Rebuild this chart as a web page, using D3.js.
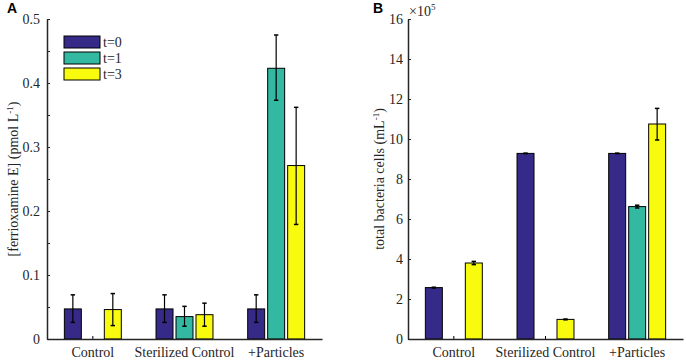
<!DOCTYPE html>
<html>
<head>
<meta charset="utf-8">
<script src="https://cdn.jsdelivr.net/npm/d3@7"></script>
<style>
body { margin: 0; background: #fff; }
svg { display: block; }
</style>
</head>
<body>
<svg id="chart" width="686" height="360"></svg>
<script>
const categories = ["Control", "Sterilized Control", "+Particles"];
const seriesNames = ["t=0", "t=1", "t=3"];
const seriesColors = ["#352a87", "#33b8a1", "#f9fb0e"];

// Panel A: [ferrioxamine E] (pmol L-1)
const feMean = [
  [0.047, 0.0, 0.046],
  [0.047, 0.035, 0.038],
  [0.047, 0.423, 0.271]
];
const feLow = [
  [0.026, null, 0.021],
  [0.026, 0.020, 0.020],
  [0.026, 0.373, 0.179]
];
const feHigh = [
  [0.069, null, 0.071],
  [0.069, 0.051, 0.056],
  [0.069, 0.475, 0.362]
];
const feTicks = [0, 0.05, 0.1, 0.15, 0.2, 0.25, 0.3, 0.35, 0.4, 0.45, 0.5];
const feTickLabels = ["0", "", "0.1", "", "0.2", "", "0.3", "", "0.4", "", "0.5"];

// Panel B: total bacteria cells (x10^5 mL-1)
const bacMean = [
  [2.57, 0.0, 3.80],
  [9.28, 0.0, 0.98],
  [9.28, 6.62, 10.75]
];
const bacLow = [
  [2.55, null, 3.72],
  [9.27, null, 0.96],
  [9.27, 6.55, 9.95]
];
const bacHigh = [
  [2.59, null, 3.88],
  [9.29, null, 1.00],
  [9.29, 6.69, 11.53]
];
const bacTicks = [0, 2, 4, 6, 8, 10, 12, 14, 16];
const bacTickLabels = ["0", "2", "4", "6", "8", "10", "12", "14", "16"];

const svg = d3.select("#chart");
const serif = "'Liberation Serif', 'Times New Roman', serif";
const sans = "'Liberation Sans', Arial, sans-serif";
const axisColor = "#262626";
const fs = 14;

function panel(opts) {
  const g = svg.append("g");
  const x = d3.scaleBand().domain(categories).range([opts.x0, opts.x1]).paddingInner(0).paddingOuter(0);
  const y = d3.scaleLinear().domain(opts.domain).range([opts.yBottom, opts.yTop]);
  const barStep = x.bandwidth() * 0.218;
  const barW = barStep * 0.85;
  const sx = d3.scaleBand().domain(seriesNames).range([-1.5 * barStep, 1.5 * barStep]);

  categories.forEach((c, ci) => {
    seriesNames.forEach((s, si) => {
      const v = opts.mean[ci][si];
      const cx = x(c) + x.bandwidth() / 2 + sx(s) + sx.bandwidth() / 2;
      if (v > 0) {
        g.append("rect")
          .attr("x", cx - barW / 2)
          .attr("y", y(v))
          .attr("width", barW)
          .attr("height", y(0) - y(v))
          .attr("fill", seriesColors[si])
          .attr("stroke", "#000")
          .attr("stroke-width", 1);
      } else {
        g.append("line")
          .attr("x1", cx).attr("x2", cx)
          .attr("y1", y(0)).attr("y2", y(0) - 3)
          .attr("stroke", "#000").attr("stroke-width", 1);
      }
      const lo = opts.low[ci][si], hi = opts.high[ci][si];
      if (lo != null && hi != null) {
        const cap = 2.2;
        g.append("line").attr("x1", cx).attr("x2", cx).attr("y1", y(lo)).attr("y2", y(hi))
          .attr("stroke", "#000").attr("stroke-width", 1.2);
        [lo, hi].forEach(vv => {
          g.append("line").attr("x1", cx - cap).attr("x2", cx + cap).attr("y1", y(vv)).attr("y2", y(vv))
            .attr("stroke", "#000").attr("stroke-width", 1.5);
        });
      }
    });
  });

  const yAxis = d3.axisLeft(y).tickValues(opts.ticks)
    .tickFormat((d, i) => opts.tickLabels[i])
    .tickSizeInner(-3).tickSizeOuter(0).tickPadding(opts.pad);
  const ya = g.append("g").attr("transform", `translate(${opts.x0},0)`).call(yAxis);
  ya.select(".domain").attr("stroke", axisColor).attr("stroke-width", 1.5);
  ya.selectAll(".tick line").attr("stroke", axisColor).attr("stroke-width", 1);
  ya.selectAll(".tick text").attr("font-family", serif).attr("font-size", fs).attr("fill", axisColor)
    .attr("x", -opts.pad);

  const xAxis = d3.axisBottom(x).tickSize(0).tickSizeOuter(0).tickPadding(8);
  const xa = g.append("g").attr("transform", `translate(0,${opts.yBottom})`).call(xAxis);
  xa.select(".domain").attr("stroke", axisColor).attr("stroke-width", 1.5);
  xa.selectAll(".tick text").attr("font-family", serif).attr("font-size", fs).attr("fill", axisColor);

  const yl = g.append("text")
    .attr("transform", `translate(${opts.ylabX},${(opts.yTop + opts.yBottom) / 2}) rotate(-90)`)
    .attr("text-anchor", "middle")
    .attr("font-family", serif).attr("font-size", fs).attr("fill", axisColor);
  yl.append("tspan").text(opts.ylabel);
  yl.append("tspan").attr("dy", -5).attr("font-size", 9).text("-1");
  yl.append("tspan").attr("dy", 5).text(")");

  g.append("text").attr("x", opts.letterX).attr("y", 13)
    .attr("font-family", sans).attr("font-weight", "bold").attr("font-size", 14)
    .attr("fill", "#000").text(opts.letter);
  return { g, x, y };
}

panel({
  x0: 47, x1: 322, yTop: 19, yBottom: 339, domain: [0, 0.5],
  mean: feMean, low: feLow, high: feHigh,
  ticks: feTicks, tickLabels: feTickLabels, pad: 7,
  ylabel: "[ferrioxamine E] (pmol L", ylabX: 18,
  letter: "A", letterX: 7
});

panel({
  x0: 408, x1: 683, yTop: 19, yBottom: 339, domain: [0, 16],
  mean: bacMean, low: bacLow, high: bacHigh,
  ticks: bacTicks, tickLabels: bacTickLabels, pad: 5,
  ylabel: "total bacteria cells (mL", ylabX: 384,
  letter: "B", letterX: 373
});

const ex = svg.append("text").attr("x", 409).attr("y", 16)
  .attr("font-family", serif).attr("font-size", fs).attr("fill", axisColor);
ex.append("tspan").text("\u00d710");
ex.append("tspan").attr("dy", -6).attr("font-size", 9).text("5");

const leg = svg.append("g").attr("transform", "translate(64,36)");
seriesNames.forEach((s, i) => {
  leg.append("rect").attr("x", 0).attr("y", i * 16).attr("width", 36).attr("height", 12)
    .attr("fill", seriesColors[i]).attr("stroke", "#000").attr("stroke-width", 1);
  leg.append("text").attr("x", 39).attr("y", i * 16 + 11)
    .attr("font-family", serif).attr("font-size", fs).attr("fill", axisColor).text(s);
});
</script>
</body>
</html>
